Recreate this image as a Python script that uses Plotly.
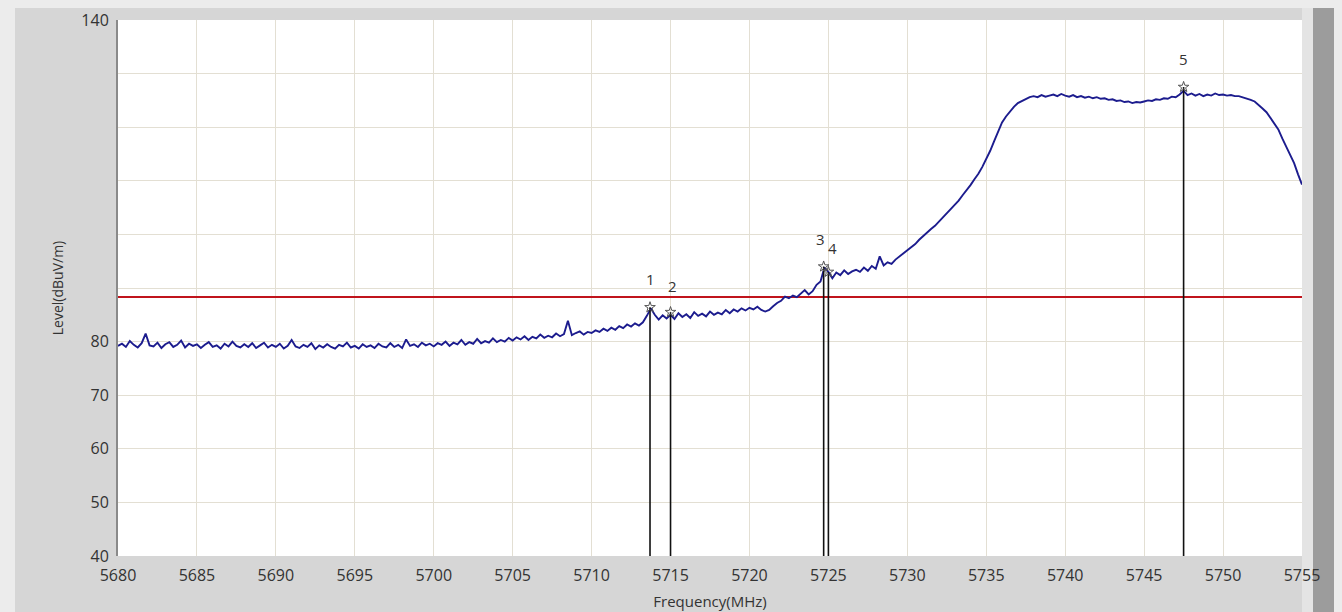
import plotly.graph_objects as go

# ---------------- data ----------------
freq_start = 5680.0
freq_step = 0.25
level = [
    # 5680 - 5684.75
    79.2, 79.6, 79.0, 80.1, 79.4, 78.9, 79.7, 81.5, 79.3, 79.1, 79.8, 78.8, 79.5, 79.9, 79.0, 79.4, 80.2, 78.9, 79.6, 79.2,
    # 5685 - 5689.75
    79.5, 78.8, 79.4, 79.9, 79.0, 79.3, 78.7, 79.6, 79.1, 80.0, 79.2, 78.9, 79.5, 79.0, 79.7, 78.8, 79.3, 79.8, 78.9, 79.4,
    # 5690 - 5694.75
    79.0, 79.6, 78.7, 79.2, 80.3, 79.1, 78.8, 79.4, 79.0, 79.7, 78.6, 79.3, 78.9, 79.5, 79.0, 78.7, 79.4, 79.1, 79.8, 78.9,
    # 5695 - 5699.75
    79.2, 78.7, 79.5, 79.0, 79.3, 78.8, 79.6, 79.1, 78.9, 79.7, 79.0, 79.4, 78.8, 80.4, 79.2, 79.5, 79.0, 79.8, 79.3, 79.6,
    # 5700 - 5704.75
    79.1, 79.7, 79.4, 80.0, 79.2, 79.8, 79.5, 80.3, 79.4, 79.9, 79.6, 80.5, 79.7, 80.1, 79.8, 80.6, 79.9, 80.3, 80.0, 80.7,
    # 5705 - 5709.75
    80.2, 80.8, 80.4, 81.0, 80.3, 80.9, 80.6, 81.3, 80.7, 81.1, 80.8, 81.5, 81.0, 81.4, 83.9, 81.2, 81.6, 81.9, 81.3, 81.8,
    # 5710 - 5714.75
    81.6, 82.1, 81.8, 82.4, 82.0, 82.6, 82.2, 82.9, 82.5, 83.2, 82.8, 83.4, 83.0, 83.6, 84.8, 86.2, 85.0, 84.1, 84.9, 84.3,
    # 5715 - 5719.75
    85.0, 84.2, 85.3, 84.6, 85.1, 84.4, 85.5, 84.8, 85.2, 84.7, 85.6, 85.0, 85.4, 85.1, 85.9, 85.3, 86.0, 85.6, 86.2, 85.8,
    # 5720 - 5724.75
    86.3, 86.0, 86.5, 85.9, 85.6, 85.9, 86.6, 87.2, 87.6, 88.4, 88.1, 88.6, 88.3, 88.9, 89.6, 88.8, 89.4, 90.6, 91.2, 93.8,
    # 5725 - 5729.75
    93.0, 91.8, 92.9, 92.4, 93.3, 92.6, 93.1, 93.4, 93.0, 93.8, 93.2, 94.1, 93.6, 95.9, 94.2, 94.8, 94.5, 95.3, 95.9, 96.4,
    # 5730 - 5734.75
    97.0, 97.6, 98.2, 99.0, 99.7, 100.3, 101.0, 101.6, 102.4, 103.0, 103.8, 104.6, 105.5, 106.3, 107.3, 108.2, 109.2, 110.3, 111.3, 112.6,
    # 5735 - 5739.75
    114.0, 115.6, 117.4, 119.3, 120.9, 122.0, 123.0, 123.8, 124.5, 124.9, 125.3, 125.6, 125.8, 125.6, 126.0, 125.7, 125.9, 126.1, 125.8, 126.2,
    # 5740 - 5744.75
    125.9, 125.7, 126.0, 125.6, 125.8, 125.5, 125.7, 125.4, 125.6, 125.3, 125.4, 125.1, 125.2, 124.9, 125.0, 124.7, 124.8, 124.5, 124.7, 124.6,
    # 5745 - 5749.75
    124.8, 125.0, 124.9, 125.2, 125.1, 125.4, 125.3, 125.7, 125.6, 126.1, 126.8, 126.0, 126.3, 125.9, 126.2, 125.8, 126.1, 125.9, 126.3, 126.0,
    # 5750 - 5754.75
    126.1, 125.9, 126.0, 125.8, 125.8, 125.6, 125.4, 125.1, 124.8, 124.2, 123.5, 122.8, 121.8, 120.8, 119.6, 117.9, 116.3, 114.8, 113.3, 111.2,
    # 5755
    109.3,
]
freq = [freq_start + i * freq_step for i in range(len(level))]

limit_level = 88.3

marker_labels = ["1", "2", "3", "4", "5"]
marker_freq = [5713.7, 5715.0, 5724.7, 5725.0, 5747.5]
marker_level = [86.4, 85.5, 94.0, 93.0, 127.5]

x_ticks = [5680, 5685, 5690, 5695, 5700, 5705, 5710, 5715, 5720, 5725, 5730, 5735, 5740, 5745, 5750, 5755]
y_ticks = [40, 50, 60, 70, 80, 90, 100, 110, 120, 130, 140]
y_tick_text = ["40", "50", "60", "70", "80", "", "", "", "", "", "140"]

y_floor = 40
# ---------------- figure ----------------
FONT = "Open Sans"
fig = go.Figure()

# marker stems
stem_x, stem_y = [], []
for f, lv in zip(marker_freq, marker_level):
    stem_x += [f, f, None]
    stem_y += [y_floor, lv, None]

fig.add_trace(go.Scatter(
    x=[freq[0], freq[-1]], y=[limit_level, limit_level], mode="lines",
    line=dict(color="#c0141c", width=2), hoverinfo="skip", showlegend=False))

fig.add_trace(go.Scatter(
    x=freq, y=level, mode="lines",
    line=dict(color="#1c1c8e", width=1.9), showlegend=False))

fig.add_trace(go.Scatter(
    x=stem_x, y=stem_y, mode="lines",
    line=dict(color="#111111", width=1.6), hoverinfo="skip", showlegend=False))

fig.add_trace(go.Scatter(
    x=marker_freq, y=marker_level, mode="markers",
    marker=dict(symbol="star-open", size=8, color="#555555", line=dict(width=1)),
    hoverinfo="skip", showlegend=False))

label_xshift = [0, 2, -3, 4, 0]
label_yshift = [28, 26, 28, 24, 28]
annotations = [
    dict(x=f, y=lv, text=t, showarrow=False, xshift=dx, yshift=dy,
         font=dict(family=FONT, size=15, color="#333333"))
    for f, lv, t, dx, dy in zip(marker_freq, marker_level, marker_labels, label_xshift, label_yshift)
]

# page has an 8px body margin: figure is 1334x604 placed at (8, 8)
fig.update_layout(
    width=1334, height=604,
    margin=dict(l=110, r=40, t=12, b=56, autoexpand=False),
    paper_bgcolor="#d6d6d6",
    plot_bgcolor="#ffffff",
    font=dict(family=FONT, size=16, color="#333333"),
    annotations=annotations,
    shapes=[
        dict(type="rect", xref="paper", yref="paper", x0=-0.0929, x1=-0.087, y0=-0.11, y1=1.03,
             fillcolor="#ececec", line=dict(width=0), layer="below"),
        dict(type="rect", xref="paper", yref="paper", x0=-0.1, x1=1.04, y0=-0.13, y1=-0.108,
             fillcolor="#e8e8e8", line=dict(width=0), layer="below"),
        dict(type="rect", xref="paper", yref="paper", x0=1.0, x1=1.0093, y0=-0.108, y1=1.03,
             fillcolor="#e4e4e4", line=dict(width=0), layer="below"),
        dict(type="rect", xref="paper", yref="paper", x0=1.0093, x1=1.04, y0=-0.108, y1=1.03,
             fillcolor="#9c9c9c", line=dict(width=0), layer="below"),
    ],
)

fig.update_xaxes(
    range=[5680, 5755], tickvals=x_ticks, ticks="", automargin=False,
    showgrid=True, gridcolor="#e3dfd3", gridwidth=1, zeroline=False,
    showline=False, ticklabelstandoff=8,
    tickfont=dict(family=FONT, size=16, color="#333333"),
    title=dict(text="Frequency(MHz)", font=dict(family=FONT, size=15, color="#333333"), standoff=11),
)
fig.update_yaxes(
    range=[40, 140], tickvals=y_ticks, ticktext=y_tick_text, ticks="", automargin=False,
    showgrid=True, gridcolor="#e3dfd3", gridwidth=1, zeroline=False,
    showline=True, linecolor="#8a8a8a", linewidth=2, mirror=False,
    ticklabelstandoff=4,
    tickfont=dict(family=FONT, size=16, color="#333333"),
    title=dict(text="Level(dBuV/m)", font=dict(family=FONT, size=14, color="#333333"), standoff=14),
)

fig.write_html("out.html", post_script="document.body.style.background='#ececec';")
